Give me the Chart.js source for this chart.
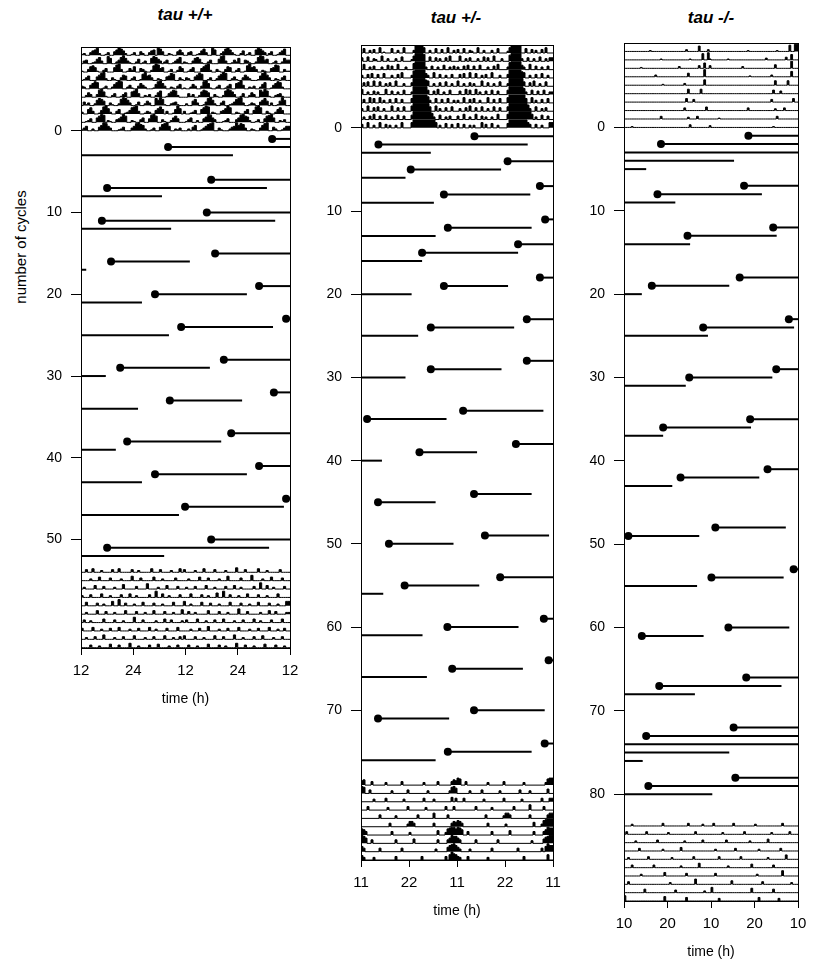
<!DOCTYPE html>
<html><head><meta charset="utf-8">
<script src="https://cdn.jsdelivr.net/npm/chart.js@4.4.1/dist/chart.umd.min.js"></script>
<style>
body{margin:0;background:#fff;width:818px;height:966px;position:relative;overflow:hidden;font-family:"Liberation Sans",Arial,sans-serif;color:#000;}
canvas{position:absolute;}
.ttl{position:absolute;font-style:italic;font-weight:bold;font-size:17px;text-align:center;width:160px;line-height:20px;white-space:nowrap;}
#ytitle{position:absolute;font-size:15px;white-space:nowrap;transform:translate(-50%,-50%) rotate(-90deg);left:20px;top:247px;}
</style></head><body>
<div class="ttl" style="left:105px;top:5px">tau +/+</div>
<div class="ttl" style="left:376px;top:8px">tau +/-</div>
<div class="ttl" style="left:631px;top:8px">tau -/-</div>
<div id="ytitle">number of cycles</div>
<canvas id="c1" width="284" height="668" style="left:20px;top:42px;width:284px;height:668px"></canvas>
<canvas id="c2" width="267" height="882" style="left:300px;top:40px;width:267px;height:882px"></canvas>
<canvas id="c3" width="249" height="925" style="left:563px;top:38px;width:249px;height:925px"></canvas>
<script>
// ---------- Panel 1: tau +/+ (24 h, double plotted 12..12) ----------
const p1XTicks = [12, 24, 36, 48, 60];
const p1XLabels = ['12', '24', '12', '24', '12'];
const p1YTicks = [0, 10, 20, 30, 40, 50];
// [cycle, start (h), end (h), onset dot]
const p1Segments = [
  [1, 55.9, 60, 1], [2, 32.0, 60, 1], [3, 12, 46.9, 0],
  [6, 41.9, 60, 1], [7, 18.0, 54.7, 1], [8, 12, 30.6, 0],
  [10, 40.9, 60, 1], [11, 16.8, 56.6, 1], [12, 12, 32.7, 0],
  [15, 42.8, 60, 1], [16, 18.9, 37.0, 1], [17, 12, 13.2, 0],
  [19, 52.9, 60, 1], [20, 29.0, 50.1, 1], [21, 12, 26.0, 0],
  [23, 59.1, 60, 1], [24, 35.0, 56.1, 1], [25, 12, 32.2, 0],
  [28, 44.8, 60, 1], [29, 21.0, 41.6, 1], [30, 12, 17.7, 0],
  [32, 56.3, 60, 1], [33, 32.4, 49.0, 1], [34, 12, 25.1, 0],
  [37, 46.5, 60, 1], [38, 22.6, 44.2, 1], [39, 12, 20.0, 0],
  [41, 52.9, 60, 1], [42, 29.0, 50.1, 1], [43, 12, 26.0, 0],
  [45, 59.1, 60, 1], [46, 35.9, 58.6, 1], [47, 12, 34.5, 0],
  [50, 41.9, 60, 1], [51, 18.0, 55.2, 1], [52, 12, 31.1, 0]
];
// activity per day, 48 half-period bins, 0..9
const p1TopDays = [
  "01200356 82001300 46975200 13004200 35608740 02100463",
  "00340012 57300860 02479631 00250130 06875302 40013570",
  "21003675 10024000 58930014 26004310 02798450 01300264",
  "00135000 46892003 10036500 24001795 63002100 45870031",
  "03200468 70013002 57980024 10036420 00158963 00210350",
  "10025300 38961002 40013500 67940021 30025700 14687200",
  "00413002 68750031 00279863 00140025 30086971 00234100",
  "02005730 01489620 03500124 78930013 20046850 30015960",
  "30012400 57980210 03469700 21003500 48970031 00257400",
  "01350020 04698530 00124000 35897620 01300478 95002130",
  "00204600 13578900 31000245 96873002 10036890 04200135"
];
const p1BottomDays = [
  "00030040 00200003 00400000 30020000 04000300 00200040",
  "30000200 04000030 00020000 50003000 00400020 00003000",
  "00200004 00030000 20005000 00300006 00002000 40000300",
  "02000300 00400020 00030004 00200000 30070040 02000030",
  "00040000 30020005 00700300 02000400 00300020 00040000",
  "50020000 40003000 20000400 00300020 00400003 00020005",
  "00300200 00040000 30002000 06000300 00020004 00300002",
  "03000040 00200030 00400002 00030000 40020000 30000400",
  "00020003 00050000 20003000 04000020 00300004 00020030",
  "40000300 02000040 00300005 00020000 30004000 02000300",
  "00300020 00040000 30020000 50003000 20000400 00300020"
];

// ---------- Panel 2: tau +/- (22 h, double plotted 11..11) ----------
const p2XTicks = [11, 22, 33, 44, 55];
const p2XLabels = ['11', '22', '11', '22', '11'];
const p2YTicks = [0, 10, 20, 30, 40, 50, 60, 70];
const p2Segments = [
  [1, 37.0, 55, 1], [2, 15.0, 49.2, 1], [3, 11, 27.0, 0],
  [4, 44.6, 55, 1], [5, 22.4, 43.1, 1], [6, 11, 21.2, 0],
  [7, 52.0, 55, 1], [8, 30.0, 49.8, 1], [9, 11, 27.7, 0],
  [11, 53.2, 55, 1], [12, 30.9, 50.1, 1], [13, 11, 28.1, 0],
  [14, 47.0, 55, 1], [15, 25.0, 47.0, 1], [16, 11, 25.0, 0],
  [18, 52.0, 55, 1], [19, 30.0, 44.7, 1], [20, 11, 22.6, 0],
  [23, 49.0, 55, 1], [24, 27.0, 46.1, 1], [25, 11, 24.1, 0],
  [28, 49.0, 55, 1], [29, 27.0, 43.2, 1], [30, 11, 21.2, 0],
  [34, 34.4, 52.8, 1], [35, 12.4, 30.6, 1],
  [38, 46.5, 55, 1], [39, 24.4, 37.6, 1], [40, 11, 15.8, 0],
  [44, 36.9, 50.1, 1], [45, 14.9, 28.1, 1],
  [49, 39.4, 54.1, 1], [50, 17.4, 32.2, 1],
  [54, 42.9, 55, 1], [55, 21.0, 38.1, 1], [56, 11, 16.1, 0],
  [59, 52.9, 55, 1], [60, 30.8, 47.1, 1], [61, 11, 25.1, 0],
  [64, 54.0, 55, 1], [65, 31.9, 48.1, 1], [66, 11, 26.1, 0],
  [70, 36.9, 53.1, 1], [71, 14.9, 31.2, 1],
  [74, 53.1, 55, 1], [75, 30.9, 50.1, 1], [76, 11, 28.1, 0]
];
const p2TopDays = [
  "00500304 00601000 50030060 00039999 60030050 04006003",
  "04005003 20060030 00300500 00269999 80050040 30040600",
  "00600304 00030050 40060003 00079999 93004003 00500304",
  "03004050 04005000 30040600 00389999 95300600 40030040",
  "00405006 00500304 00600030 00499999 97600300 40050030",
  "06003004 03000600 40030050 00399999 99500406 00300500",
  "00400605 00603004 00500400 00599999 99730050 04005003",
  "03006004 05003000 60040050 00699999 99950060 30040050",
  "00300406 00400500 30050040 00599999 99997300 50030400",
  "04006003 00600403 00300600 00699999 99999960 30050040",
  "05004003 03000604 00500300 00599999 99996400 40030006"
];
const p2BottomDays = [
  "35600040 00000300 00000400 00000000 30000004 00000046",
  "58700400 00000000 30000000 40000000 00300000 00000378",
  "60000003 00000400 00000030 00000000 40000300 00000050",
  "40004000 00000030 00000000 40000000 03000000 00040004",
  "00000000 00400000 00300000 00000400 00000600 00004000",
  "00000000 00000004 00000000 36640000 00000400 00000046",
  "57640000 00000000 40000000 03000000 00000005 00037899",
  "79860040 00000000 00400000 00050000 00000004 00004698",
  "86400000 00400000 00000400 00000000 00000030 00005789",
  "75300003 00000000 00400000 00000004 00000000 00040697",
  "64300040 00000000 30000000 00000000 00400000 00000060"
];

// ---------- Panel 3: tau -/- (20 h, double plotted 10..10) ----------
const p3XTicks = [10, 20, 30, 40, 50];
const p3XLabels = ['10', '20', '10', '20', '10'];
const p3YTicks = [0, 10, 20, 30, 40, 50, 60, 70, 80];
const p3Segments = [
  [1, 38.6, 50, 1], [2, 18.5, 50, 1], [3, 10, 50, 0], [4, 10, 35.3, 0], [5, 10, 15.1, 0],
  [7, 37.6, 50, 1], [8, 17.7, 41.7, 1], [9, 10, 21.8, 0],
  [12, 44.3, 50, 1], [13, 24.6, 45.1, 1], [14, 10, 25.2, 0],
  [18, 36.6, 50, 1], [19, 16.4, 34.2, 1], [20, 10, 14.1, 0],
  [23, 47.9, 50, 1], [24, 28.2, 49.1, 1], [25, 10, 29.3, 0],
  [29, 45.0, 50, 1], [30, 25.0, 44.1, 1], [31, 10, 24.2, 0],
  [35, 39.0, 50, 1], [36, 19.0, 39.2, 1], [37, 10, 19.0, 0],
  [41, 43.0, 50, 1], [42, 23.0, 41.1, 1], [43, 10, 21.1, 0],
  [48, 31.0, 47.2, 1], [49, 11.0, 27.3, 1],
  [53, 49.0, 50, 1], [54, 30.1, 46.7, 1], [55, 10, 26.8, 0],
  [60, 34.0, 48.0, 1], [61, 14.1, 28.3, 1],
  [66, 38.1, 50, 1], [67, 18.1, 46.2, 1], [68, 10, 26.3, 0],
  [72, 35.2, 50, 1], [73, 15.1, 50, 1], [74, 10, 50, 0], [75, 10, 34.2, 0], [76, 10, 14.3, 0],
  [78, 35.6, 50, 1], [79, 15.6, 50, 1], [80, 10, 30.3, 0]
];
const p3TopDays = [
  "00000000 00000001 00000000 00000000 00020000 00600002",
  "00000000 00000000 00000100 00000000 00000100 00007008",
  "10000000 00100000 00000000 00000002 00000000 00300600",
  "30000000 00000000 00200000 00000000 00004000 00000800",
  "00000000 00000000 00000010 00000000 00200000 00000600",
  "00000000 00000000 00000000 00000000 00005000 00050000",
  "00000000 00000000 00000000 00000000 00040003 00000000",
  "00000000 00000000 00000000 00000000 00300000 00000040",
  "00000000 00000000 00000300 00000000 00002000 03000000",
  "00000100 00000000 00000000 00000000 00000300 00000000",
  "20000000 00000000 00000000 00000000 00010000 00000000"
];
const p3BottomDays = [
  "00000200 00000000 00000030 00000000 00003000 00002000",
  "00300000 00000300 00000000 02000000 00000000 30000000",
  "00000002 00000000 00030000 00000000 00200000 00003000",
  "00000000 03000000 00000020 00000000 40000000 00000000",
  "00020000 00000030 00000000 00020000 00000003 00000000",
  "00000300 00000000 03000000 00000000 20000000 00500000",
  "00000000 00200000 00000004 00000000 00030000 00000000",
  "00030000 00000000 00000000 00200000 00000000 60000000",
  "00000000 00004000 00000000 00000300 00000000 00000200",
  "06000000 00000000 00000005 00000000 00040000 00000000",
  "00000300 00000000 00000000 00040000 00000030 00000000"
];

// ---------- drawing ----------
Chart.defaults.font.family = '"Liberation Sans", Arial, sans-serif';
Chart.defaults.color = '#000';

const framePlugin = {
  id: 'frame',
  afterDatasetsDraw(chart) {
    const {ctx, chartArea: a} = chart;
    ctx.save();
    ctx.strokeStyle = '#000';
    ctx.lineWidth = 1;
    ctx.strokeRect(Math.round(a.left) + 0.5, Math.round(a.top) + 0.5,
                   Math.round(a.right - a.left), Math.round(a.bottom - a.top));
    ctx.restore();
  }
};

function parseDays(days) {
  return days.map(s => s.replace(/\s+/g, '').padEnd(48, '0').slice(0, 48).split('').map(Number));
}

function buildPanel(id, cfg) {
  const datasets = [];
  const span = cfg.xTicks[cfg.xTicks.length - 1] - cfg.xTicks[0];
  const xMin = cfg.xTicks[0];
  const binW = span / 96;
  function addBlock(days, baseOf, rowH) {
    const v = parseDays(days);
    for (let r = 0; r < v.length - 1; r++) {
      const row = v[r].concat(v[r + 1]);
      const base = baseOf(r);
      const pts = row.map((h, j) => ({x: xMin + j * binW, y: base - h / 9 * rowH}));
      pts.push({x: xMin + span, y: pts[pts.length - 1].y});
      datasets.push({
        data: pts, stepped: 'after', borderColor: '#000', borderWidth: 1,
        backgroundColor: '#000', fill: {value: base}, pointRadius: 0
      });
    }
  }
  addBlock(cfg.topDays, r => -(9 - r) * cfg.topStep, cfg.topStep * 0.95);
  addBlock(cfg.bottomDays, r => cfg.bottomFirst + r * cfg.bottomStep, cfg.bottomStep * 0.95);
  for (const [c, s, e, dot] of cfg.segments) {
    datasets.push({
      data: [{x: s, y: c}, {x: e, y: c}], borderColor: '#000', borderWidth: 2,
      pointRadius: [dot ? 4 : 0, 0], pointBackgroundColor: '#000', pointBorderColor: '#000',
      pointBorderWidth: 0, fill: false, clip: false
    });
  }
  new Chart(document.getElementById(id), {
    type: 'line',
    data: {datasets},
    plugins: [framePlugin],
    options: {
      responsive: false, animation: false, devicePixelRatio: 1,
      layout: {padding: {top: 5, right: 14, left: 0, bottom: 0}},
      plugins: {legend: {display: false}, tooltip: {enabled: false}},
      elements: {line: {tension: 0}},
      scales: {
        x: {
          type: 'linear', min: xMin, max: xMin + span,
          afterBuildTicks: s => { s.ticks = cfg.xTicks.map(v => ({value: v})); },
          ticks: {callback: (v, i) => cfg.xLabels[i], font: {size: 15}, color: '#000', padding: 7, maxRotation: 0, autoSkip: false},
          grid: {drawOnChartArea: false, drawTicks: true, tickLength: 7, color: '#000', lineWidth: 1},
          border: {display: true, color: '#000', width: 1},
          title: {display: true, text: 'time (h)', font: {size: 14}, color: '#000', padding: {top: 0, bottom: 2}},
          afterFit: s => { s.height = 62; s.paddingLeft = 0; s.paddingRight = 0; }
        },
        y: {
          type: 'linear', reverse: true, min: cfg.yMin, max: cfg.yMax,
          afterBuildTicks: s => { s.ticks = cfg.yTicks.map(v => ({value: v})); },
          ticks: {callback: v => String(v), font: {size: 14}, color: '#000', padding: 9, autoSkip: false},
          grid: {drawOnChartArea: false, drawTicks: true, tickLength: 10, color: '#000', lineWidth: 1},
          border: {display: true, color: '#000', width: 1},
          afterFit: s => { s.width = 61; s.paddingTop = 0; s.paddingBottom = 0; }
        }
      }
    }
  });
}

buildPanel('c1', {xTicks: p1XTicks, xLabels: p1XLabels, yTicks: p1YTicks, segments: p1Segments,
  topDays: p1TopDays, bottomDays: p1BottomDays, topStep: 1.025, bottomFirst: 54, bottomStep: 1.025,
  yMin: -10.24, yMax: 63.26});
buildPanel('c2', {xTicks: p2XTicks, xLabels: p2XLabels, yTicks: p2YTicks, segments: p2Segments,
  topDays: p2TopDays, bottomDays: p2BottomDays, topStep: 1.0, bottomFirst: 79, bottomStep: 1.0,
  yMin: -9.96, yMax: 88.0});
buildPanel('c3', {xTicks: p3XTicks, xLabels: p3XLabels, yTicks: p3YTicks, segments: p3Segments,
  topDays: p3TopDays, bottomDays: p3BottomDays, topStep: 1.013, bottomFirst: 83.8, bottomStep: 1.0,
  yMin: -10.13, yMax: 92.8});
</script>
</body></html>
